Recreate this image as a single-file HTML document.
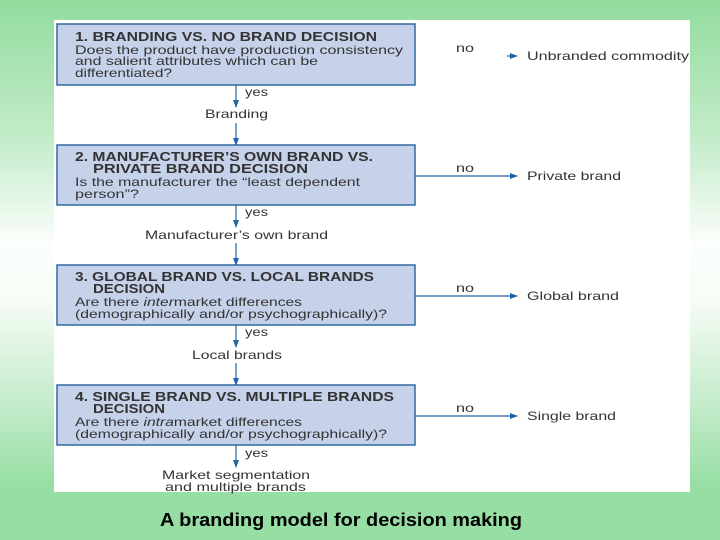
<!DOCTYPE html>
<html><head><meta charset="utf-8"><style>
html,body{margin:0;padding:0;}
body{width:720px;height:540px;overflow:hidden;background:linear-gradient(to bottom,#92dc9f 0%,#c2ebc8 25%,#fbfefb 45%,#f8fdf8 55%,#c4ebca 75%,#96dea4 90%,#96dea4 100%);}
svg{display:block;font-family:"Liberation Sans",sans-serif;}
</style></head><body>
<svg width="720" height="540" viewBox="0 0 720 540" xmlns="http://www.w3.org/2000/svg">
<defs><marker id="a" markerWidth="8" markerHeight="8" refX="7" refY="4" orient="auto" markerUnits="userSpaceOnUse"><path d="M0,1 L8,4 L0,7 Z" fill="#1f66a8"/></marker></defs>
<rect x="54" y="20" width="636" height="472" fill="#fff"/>
<g fill="#c6d1ea" stroke="#2f6aa0" stroke-width="1.5">
<rect x="57" y="24" width="358" height="61"/>
<rect x="57" y="145" width="358" height="60"/>
<rect x="57" y="265" width="358" height="60"/>
<rect x="57" y="385" width="358" height="60"/>
</g>
<g stroke="#1f66a8" stroke-width="1.2" fill="none" marker-end="url(#a)">
<line x1="236" y1="85" x2="236" y2="107"/><line x1="236" y1="123" x2="236" y2="145"/>
<line x1="236" y1="205" x2="236" y2="227"/><line x1="236" y1="243" x2="236" y2="265"/>
<line x1="236" y1="325" x2="236" y2="347"/><line x1="236" y1="363" x2="236" y2="385"/>
<line x1="236" y1="445" x2="236" y2="467"/>
<line x1="507" y1="56" x2="517" y2="56"/>
<line x1="415" y1="176" x2="517" y2="176"/>
<line x1="415" y1="296" x2="517" y2="296"/>
<line x1="415" y1="416" x2="517" y2="416"/>
</g>
<g font-size="12" fill="#333" lengthAdjust="spacingAndGlyphs">
<text x="75" y="41" font-weight="bold" font-size="12.5" textLength="302" lengthAdjust="spacingAndGlyphs">1. BRANDING VS. NO BRAND DECISION</text>
<text x="75" y="54" textLength="328" lengthAdjust="spacingAndGlyphs">Does the product have production consistency</text>
<text x="75" y="65" textLength="243" lengthAdjust="spacingAndGlyphs">and salient attributes which can be</text>
<text x="75" y="77" textLength="97" lengthAdjust="spacingAndGlyphs">differentiated?</text>
<text x="75" y="161" font-weight="bold" font-size="12.5" textLength="298" lengthAdjust="spacingAndGlyphs">2. MANUFACTURER’S OWN BRAND VS.</text>
<text x="93" y="173" font-weight="bold" font-size="12.5" textLength="215" lengthAdjust="spacingAndGlyphs">PRIVATE BRAND DECISION</text>
<text x="75" y="186" textLength="285" lengthAdjust="spacingAndGlyphs">Is the manufacturer the “least dependent</text>
<text x="75" y="198" textLength="64" lengthAdjust="spacingAndGlyphs">person”?</text>
<text x="75" y="281" font-weight="bold" font-size="12.5" textLength="299" lengthAdjust="spacingAndGlyphs">3. GLOBAL BRAND VS. LOCAL BRANDS</text>
<text x="93" y="293" font-weight="bold" font-size="12.5" textLength="72" lengthAdjust="spacingAndGlyphs">DECISION</text>
<text x="75" y="306" textLength="227" lengthAdjust="spacingAndGlyphs">Are there <tspan font-style="italic">inter</tspan>market differences</text>
<text x="75" y="318" textLength="312" lengthAdjust="spacingAndGlyphs">(demographically and/or psychographically)?</text>
<text x="75" y="401" font-weight="bold" font-size="12.5" textLength="319" lengthAdjust="spacingAndGlyphs">4. SINGLE BRAND VS. MULTIPLE BRANDS</text>
<text x="93" y="413" font-weight="bold" font-size="12.5" textLength="72" lengthAdjust="spacingAndGlyphs">DECISION</text>
<text x="75" y="426" textLength="227" lengthAdjust="spacingAndGlyphs">Are there <tspan font-style="italic">intra</tspan>market differences</text>
<text x="75" y="438" textLength="312" lengthAdjust="spacingAndGlyphs">(demographically and/or psychographically)?</text>
<text x="245" y="96" textLength="23" lengthAdjust="spacingAndGlyphs">yes</text><text x="245" y="216" textLength="23" lengthAdjust="spacingAndGlyphs">yes</text><text x="245" y="336" textLength="23" lengthAdjust="spacingAndGlyphs">yes</text><text x="245" y="457" textLength="23" lengthAdjust="spacingAndGlyphs">yes</text>
<text x="205" y="118" textLength="63" lengthAdjust="spacingAndGlyphs">Branding</text>
<text x="145" y="239" textLength="183" lengthAdjust="spacingAndGlyphs">Manufacturer’s own brand</text>
<text x="192" y="359" textLength="90" lengthAdjust="spacingAndGlyphs">Local brands</text>
<text x="162" y="479" textLength="148" lengthAdjust="spacingAndGlyphs">Market segmentation</text>
<text x="165" y="491" textLength="141" lengthAdjust="spacingAndGlyphs">and multiple brands</text>
<text x="456" y="52" textLength="18" lengthAdjust="spacingAndGlyphs">no</text><text x="456" y="172" textLength="18" lengthAdjust="spacingAndGlyphs">no</text><text x="456" y="292" textLength="18" lengthAdjust="spacingAndGlyphs">no</text><text x="456" y="412" textLength="18" lengthAdjust="spacingAndGlyphs">no</text>
<text x="527" y="60" textLength="162" lengthAdjust="spacingAndGlyphs">Unbranded commodity</text>
<text x="527" y="180" textLength="94" lengthAdjust="spacingAndGlyphs">Private brand</text>
<text x="527" y="300" textLength="92" lengthAdjust="spacingAndGlyphs">Global brand</text>
<text x="527" y="420" textLength="89" lengthAdjust="spacingAndGlyphs">Single brand</text>
</g>
<text x="160" y="526" font-size="18" font-weight="bold" fill="#000" textLength="362" lengthAdjust="spacingAndGlyphs">A branding model for decision making</text>
</svg>
</body></html>
